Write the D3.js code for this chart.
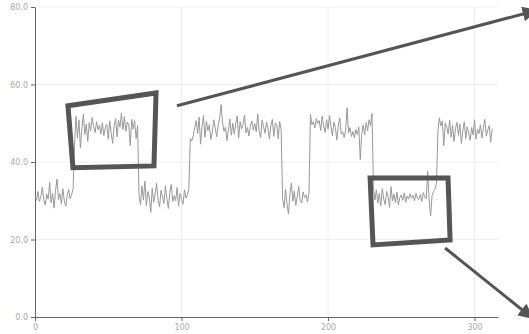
<!DOCTYPE html>
<html>
<head>
<meta charset="utf-8">
<script src="https://cdn.jsdelivr.net/npm/d3@7"></script>
<style>
  body { margin: 0; background: #fff; }
  .grid line { stroke: #eeeeee; }
  .axis path, .axis line { stroke: #666; }
  .axis text { fill: #aaa; font-family: "DejaVu Sans", sans-serif; font-size: 8px; }
</style>
</head>
<body>
<svg id="chart"></svg>
<script>
// series, one array per level stretch
const low1 = [31.2, 30.1, 32.4, 29.8, 31.0, 33.5, 30.2, 28.9, 31.7, 30.4, 34.8, 29.5, 31.9, 28.1,
  32.6, 35.6, 30.3, 31.8, 29.2, 33.1, 30.0, 28.6, 31.4, 32.9, 30.5, 31.6, 33.0];
const high1 = [44.5, 51.8, 46.2, 50.9, 43.6, 48.7, 52.3, 47.1, 49.8, 45.3, 50.2, 48.0, 51.5, 49.1,
  47.6, 50.4, 48.3, 49.5, 47.2, 50.1, 46.8, 48.9, 49.7, 45.9, 50.6, 47.4, 44.8, 49.3, 51.2, 46.5,
  50.8, 49.0, 52.6, 48.4, 51.7, 47.9, 50.3, 49.6, 44.2, 51.0, 48.5, 50.7, 46.1, 49.4];
const low2 = [31.5, 29.0, 33.8, 30.2, 35.1, 28.7, 32.4, 30.9, 27.0, 33.2, 29.6, 31.8, 34.5, 30.1,
  28.4, 32.7, 31.0, 29.3, 33.9, 30.6, 28.0, 32.1, 34.2, 29.8, 31.3, 30.0, 33.4, 28.6, 31.9, 30.4,
  29.1, 32.8, 30.7, 31.6, 33.0];
const high2 = [46.0, 45.4, 46.8, 48.9, 50.7, 47.3, 51.6, 44.6, 49.2, 52.0, 46.4, 50.5, 48.1, 49.6,
  45.8, 47.7, 50.9, 48.8, 46.5, 49.4, 51.3, 54.8, 50.2, 47.9, 49.0, 45.5, 48.3, 51.1, 46.9, 50.0,
  47.2, 49.8, 51.9, 46.2, 50.4, 48.6, 49.7, 52.1, 47.5, 48.9, 46.7, 49.3, 50.6, 48.2, 49.9, 47.8,
  52.4, 48.0, 46.3, 50.8, 49.1, 47.4, 50.3, 48.7, 45.9, 49.5, 51.0, 46.6, 50.1, 49.7, 46.0, 50.5, 48.4];
const low3 = [30.5, 28.2, 33.0, 29.1, 26.6, 31.8, 34.6, 29.9, 32.5, 28.8, 31.2, 33.7, 30.0, 29.4,
  32.3, 30.8, 31.5, 29.7, 32.0];
const high3 = [52.3, 49.6, 50.4, 48.8, 51.2, 49.9, 50.7, 48.1, 51.8, 49.3, 47.6, 50.9, 48.5, 52.0,
  49.1, 46.8, 50.3, 48.9, 45.7, 49.5, 51.4, 47.2, 47.8, 46.3, 48.1, 54.0, 47.5, 48.9, 46.6, 47.9,
  46.2, 48.4, 47.1, 49.0, 40.6, 47.3, 49.6, 47.0, 50.2, 48.1, 50.9, 49.4, 52.5];
const low4 = [33.5, 30.2, 32.8, 29.4, 31.9, 28.7, 33.1, 30.5, 29.0, 32.4, 31.1, 28.3, 33.6, 30.0,
  31.7, 29.5, 32.2, 28.9, 30.8, 31.5, 30.1, 32.0, 29.6, 31.2, 30.4, 31.8, 30.7, 31.4, 30.0, 31.9,
  30.6, 30.3, 31.6, 29.8, 32.1, 31.0, 30.5, 37.6, 30.2, 26.1, 31.3, 32.4, 33.0, 34.5];
const high4 = [48.0, 51.4, 49.3, 50.6, 44.2, 50.1, 49.0, 47.2, 50.8, 46.4, 49.5, 45.3, 48.7, 50.2,
  46.9, 49.8, 44.8, 48.1, 50.4, 46.0, 49.1, 47.5, 45.6, 48.9, 47.0, 50.9, 45.9, 48.4, 47.3, 49.6,
  46.2, 48.8, 51.0, 46.7, 48.2, 49.4, 45.1, 48.6];

const values = [].concat(low1, high1, low2, high2, low3, high3, low4, high4);

const xTicks = [0, 100, 200, 300];
const yTicks = [0, 20, 40, 60, 80];

// annotations, in data units
const box1 = [[22.5, 54.5], [82.6, 57.8], [81.2, 39.0], [25.9, 38.5]];
const box2 = [[228.7, 35.9], [281.9, 35.9], [283.3, 19.9], [230.7, 18.6]];
const arrow1 = [[96.9, 54.5], [341.0, 79.0]];
const arrow2 = [[279.9, 17.8], [338.6, 0.0]];

const svgWidth = 529, svgHeight = 334;
const margin = { top: 7, right: 31, bottom: 17, left: 35 };

const svg = d3.select('#chart')
  .attr('width', svgWidth)
  .attr('height', svgHeight);

const x = d3.scaleLinear()
  .domain([0, 316])
  .range([margin.left, svgWidth - margin.right]);

const y = d3.scaleLinear()
  .domain([0, 80])
  .range([svgHeight - margin.bottom, margin.top]);

// grid
svg.append('g')
  .attr('class', 'grid')
  .selectAll('line.h')
  .data(yTicks.slice(1))
  .join('line')
  .attr('x1', x(0)).attr('x2', x(316))
  .attr('y1', d => y(d)).attr('y2', d => y(d));

svg.select('.grid')
  .selectAll('line.v')
  .data(xTicks.slice(1))
  .join(enter => enter.append('line'))
  .attr('x1', d => x(d)).attr('x2', d => x(d))
  .attr('y1', y(0)).attr('y2', y(80));

// axes
svg.append('g')
  .attr('class', 'axis')
  .attr('transform', 'translate(0,' + y(0) + ')')
  .call(d3.axisBottom(x).tickValues(xTicks).tickSize(4).tickSizeOuter(0));

svg.append('g')
  .attr('class', 'axis')
  .attr('transform', 'translate(' + x(0) + ',0)')
  .call(d3.axisLeft(y).tickValues(yTicks).tickFormat(d3.format('.1f')).tickSize(4).tickSizeOuter(0));

// series
const line = d3.line()
  .x((d, i) => x(i))
  .y(d => y(d));

svg.append('path')
  .datum(values)
  .attr('fill', 'none')
  .attr('stroke', '#999')
  .attr('stroke-width', 1)
  .attr('stroke-linejoin', 'round')
  .attr('d', line);

// annotations
const pt = d3.line().x(d => x(d[0])).y(d => y(d[1]));

svg.append('defs').append('marker')
  .attr('id', 'head')
  .attr('viewBox', '0 0 10 10')
  .attr('refX', 8).attr('refY', 5)
  .attr('markerWidth', 5).attr('markerHeight', 5)
  .attr('orient', 'auto')
  .append('path')
  .attr('d', 'M0,0L10,5L0,10z')
  .attr('fill', '#555');

[box1, box2].forEach(b => {
  svg.append('path')
    .attr('d', pt(b) + 'Z')
    .attr('fill', 'none')
    .attr('stroke', '#555')
    .attr('stroke-width', 5)
    .attr('stroke-linejoin', 'miter');
});

[arrow1, arrow2].forEach(a => {
  svg.append('path')
    .attr('d', pt(a))
    .attr('fill', 'none')
    .attr('stroke', '#555')
    .attr('stroke-width', 3)
    .attr('marker-end', 'url(#head)');
});
</script>
</body>
</html>
